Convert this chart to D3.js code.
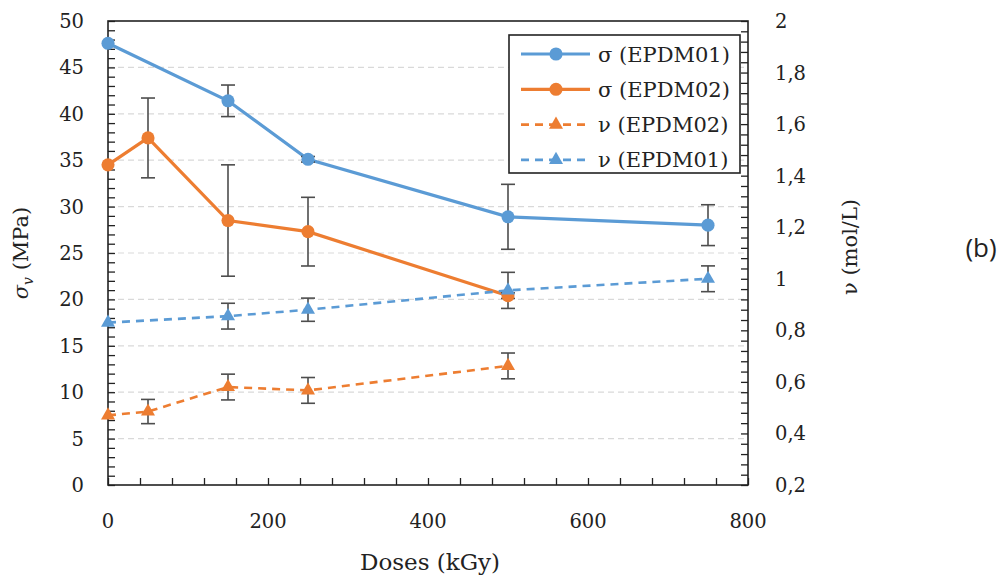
<!DOCTYPE html>
<html><head><meta charset="utf-8">
<script src="https://cdn.jsdelivr.net/npm/d3@7"></script>
<style>body{margin:0;background:#fff}svg{display:block}</style>
</head><body>
<svg id="c" width="1006" height="581"></svg>
<script>
// ---- data ----
const doses01 = [0, 150, 250, 500, 750];
const doses02 = [0, 50, 150, 250, 500];
const sigma01 = [47.6, 41.4, 35.1, 28.9, 28.0];
const sigma01Err = [0, 1.7, 0.3, 3.5, 2.2];
const sigma02 = [34.5, 37.4, 28.5, 27.3, 20.4];
const sigma02Err = [0, 4.3, 6.0, 3.7, 0.3];
const nu01 = [0.83, 0.855, 0.88, 0.955, 1.0];
const nu01Err = [0, 0.05, 0.045, 0.07, 0.05];
const nu02 = [0.47, 0.485, 0.58, 0.567, 0.662];
const nu02Err = [0, 0.047, 0.05, 0.05, 0.05];
const xTicks = [0, 200, 400, 600, 800];
const yLeftTicks = [0, 5, 10, 15, 20, 25, 30, 35, 40, 45, 50];
const yRightTicks = [0.2, 0.4, 0.6, 0.8, 1, 1.2, 1.4, 1.6, 1.8, 2];
const legendLabels = ["σ (EPDM01)", "σ (EPDM02)", "ν (EPDM02)", "ν (EPDM01)"];

const blue = "#5B9BD5", orange = "#ED7D31", errC = "#4d4d4d";
const serif = "DejaVu Serif";

const svg = d3.select("#c");
const L = 108, R = 748, T = 21, B = 485;
const x = d3.scaleLinear([0, 800], [L, R]);
const yL = d3.scaleLinear([0, 50], [B, T]);
const yR = d3.scaleLinear([0.2, 2], [B, T]);

// gridlines
svg.append("g").selectAll("line").data(yLeftTicks.filter(v => v > 0 && v < 50)).join("line")
  .attr("x1", L).attr("x2", R).attr("y1", d => yL(d)).attr("y2", d => yL(d))
  .attr("stroke", "#d9d9d9").attr("stroke-width", 1.2).attr("stroke-dasharray", "6,4");

// axes with inward ticks
const gl = svg.append("g").attr("transform", `translate(${L},0)`)
  .call(d3.axisRight(yL).tickValues(d3.range(0, 51, 1)).tickSize(7).tickFormat(""));
const gr = svg.append("g").attr("transform", `translate(${R},0)`)
  .call(d3.axisLeft(yR).tickValues(d3.range(0, 46).map(i => 0.2 + i * 0.04)).tickSize(7).tickFormat(""));
const gb = svg.append("g").attr("transform", `translate(0,${B})`)
  .call(d3.axisTop(x).tickValues(d3.range(0, 801, 40)).tickSize(7).tickFormat(""));
[gl, gr, gb].forEach(g => { g.select(".domain").remove(); g.selectAll("line").attr("stroke", "#222").attr("stroke-width", 1.3); });
// frame
svg.append("rect").attr("x", L).attr("y", T).attr("width", R - L).attr("height", B - T)
  .attr("fill", "none").attr("stroke", "#222").attr("stroke-width", 1.6);

// tick labels
svg.append("g").selectAll("text").data(yLeftTicks).join("text")
  .attr("x", 84).attr("y", d => yL(d)).attr("dy", "0.36em").attr("text-anchor", "end")
  .attr("font-family", serif).attr("font-size", 19.5).attr("fill", "#222").text(d => d);
svg.append("g").selectAll("text").data(yRightTicks).join("text")
  .attr("x", 775).attr("y", d => yR(d)).attr("dy", "0.36em").attr("text-anchor", "start")
  .attr("font-family", serif).attr("font-size", 19.5).attr("fill", "#222")
  .text(d => String(+d.toFixed(1)).replace(".", ","));
svg.append("g").selectAll("text").data(xTicks).join("text")
  .attr("x", d => x(d)).attr("y", 528).attr("text-anchor", "middle")
  .attr("font-family", serif).attr("font-size", 19.5).attr("fill", "#222").text(d => d);

// axis titles
svg.append("text").attr("x", 430).attr("y", 570).attr("text-anchor", "middle")
  .attr("font-family", serif).attr("font-size", 23).attr("fill", "#222").text("Doses (kGy)");
const lt = svg.append("text").attr("transform", "translate(28,253) rotate(-90)").attr("text-anchor", "middle")
  .attr("font-family", serif).attr("font-size", 21).attr("fill", "#222");
lt.append("tspan").attr("font-style", "italic").text("σ");
lt.append("tspan").attr("font-size", 14).attr("font-style", "italic").attr("dy", 5).text("v");
lt.append("tspan").attr("dy", -5).text(" (MPa)");
svg.append("text").attr("transform", "translate(857,247) rotate(-90)").attr("text-anchor", "middle")
  .attr("font-family", serif).attr("font-size", 21).attr("fill", "#222").text("ν (mol/L)");
svg.append("text").attr("x", 981).attr("y", 257).attr("text-anchor", "middle")
  .attr("font-family", "'Open Sans', sans-serif").attr("font-size", 26).attr("fill", "#222").text("(b)");

// series
const series = [
  {xs: doses01, ys: sigma01, err: sigma01Err, y: yL, color: blue, dash: null, sym: "circle"},
  {xs: doses02, ys: sigma02, err: sigma02Err, y: yL, color: orange, dash: null, sym: "circle"},
  {xs: doses02, ys: nu02, err: nu02Err, y: yR, color: orange, dash: "8,6", sym: "triangle"},
  {xs: doses01, ys: nu01, err: nu01Err, y: yR, color: blue, dash: "8,6", sym: "triangle"},
];
const symFor = s => d3.symbol().type(s.sym === "circle" ? d3.symbolCircle : d3.symbolTriangle)
  .size(s.sym === "circle" ? 135 : 85);
series.forEach(s => {
  const pts = s.xs.map((d, i) => [d, s.ys[i], s.err[i]]);
  svg.append("path").datum(pts)
    .attr("d", d3.line().x(d => x(d[0])).y(d => s.y(d[1])))
    .attr("fill", "none").attr("stroke", s.color).attr("stroke-width", s.dash ? 2.6 : 3.2)
    .attr("stroke-dasharray", s.dash);
});
series.forEach(s => {
  const pts = s.xs.map((d, i) => [d, s.ys[i], s.err[i]]).filter(d => d[2] > 0);
  const g = svg.append("g").attr("stroke", errC).attr("stroke-width", 1.6);
  pts.forEach(d => {
    const cx = x(d[0]), y1 = s.y(d[1] + d[2]), y2 = s.y(d[1] - d[2]);
    g.append("line").attr("x1", cx).attr("x2", cx).attr("y1", y1).attr("y2", y2);
    g.append("line").attr("x1", cx - 7).attr("x2", cx + 7).attr("y1", y1).attr("y2", y1);
    g.append("line").attr("x1", cx - 7).attr("x2", cx + 7).attr("y1", y2).attr("y2", y2);
  });
});
series.forEach(s => {
  const pts = s.xs.map((d, i) => [d, s.ys[i]]);
  svg.append("g").selectAll("path").data(pts).join("path")
    .attr("transform", d => `translate(${x(d[0])},${s.y(d[1])})`)
    .attr("d", symFor(s)).attr("fill", s.color);
});

// legend
const lg = svg.append("g");
lg.append("rect").attr("x", 509).attr("y", 35).attr("width", 231).attr("height", 138)
  .attr("fill", "#fff").attr("stroke", "#222").attr("stroke-width", 1.6);
series.forEach((s, i) => {
  const ly = 54 + i * 35.3;
  lg.append("line").attr("x1", 521).attr("x2", 590).attr("y1", ly).attr("y2", ly)
    .attr("stroke", s.color).attr("stroke-width", s.dash ? 2.6 : 3.2).attr("stroke-dasharray", s.dash);
  lg.append("path").attr("transform", `translate(556,${ly})`).attr("d", symFor(s)).attr("fill", s.color);
  lg.append("text").attr("x", 598).attr("y", ly).attr("dy", "0.36em")
    .attr("font-family", serif).attr("font-size", 21).attr("fill", "#222").text(legendLabels[i]);
});
</script>
</body></html>
